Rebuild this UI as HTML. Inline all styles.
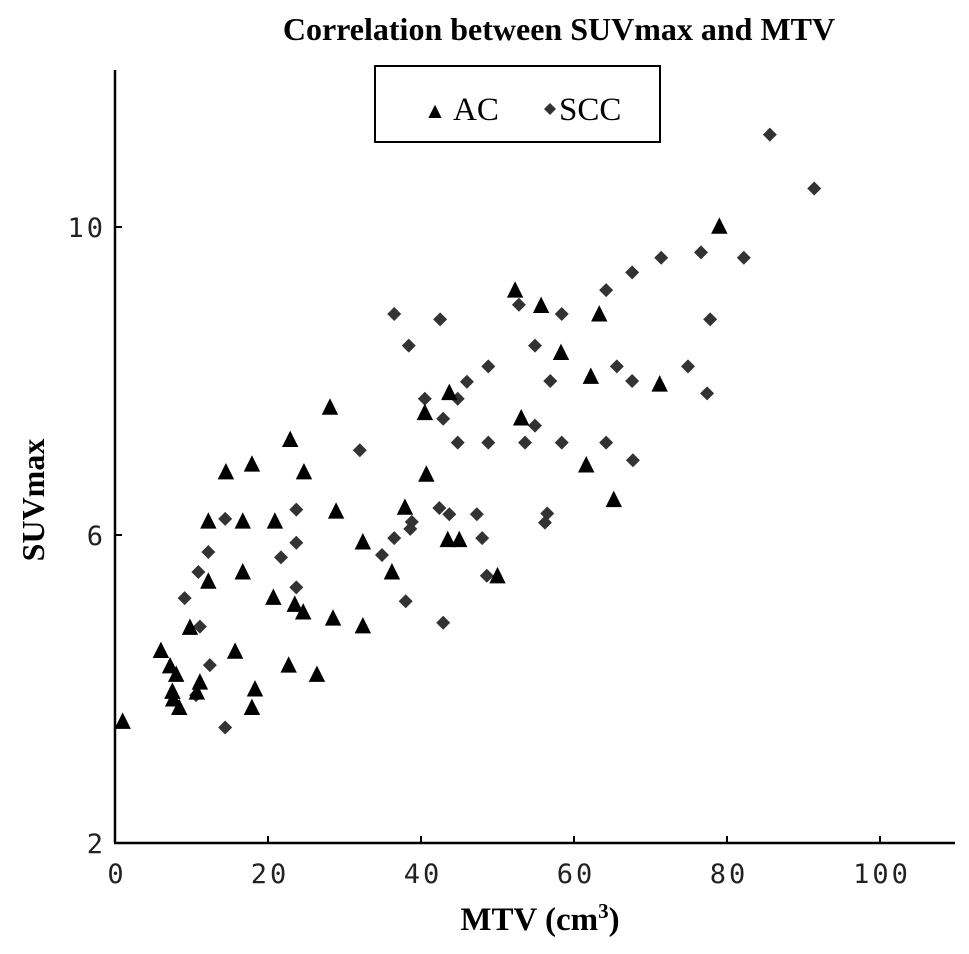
<!DOCTYPE html>
<html><head><meta charset="utf-8"><style>
html,body{margin:0;padding:0;background:#fff;}
svg{display:block;}
.tk{font-family:"DejaVu Sans Mono","Liberation Mono",monospace;font-size:27px;letter-spacing:3px;fill:#222;}
.ser{font-family:"Liberation Serif",serif;fill:#000;}
</style></head><body>
<svg id="chart" width="969" height="954" viewBox="0 0 969 954">
<text class="ser" x="559" y="40" text-anchor="middle" font-size="32" font-weight="bold">Correlation between SUVmax and MTV</text>
<g id="axes"></g>
<g id="marks"></g>
<g>
<rect x="375" y="66" width="285" height="76" fill="#fff" stroke="#000" stroke-width="2"/>
<path d="M430,117 l5,-10 l5,10 z" fill="#000" stroke="#000" stroke-width="2"/>
<text class="ser" x="453" y="120" font-size="33">AC</text>
<path d="M550,103 l6,6 l-6,6 l-6,-6 z" fill="#333"/>
<text class="ser" x="559" y="120" font-size="33">SCC</text>
</g>
<text class="ser" transform="translate(44,500) rotate(-90)" text-anchor="middle" font-size="32" font-weight="bold">SUVmax</text>
<text class="ser" x="540" y="930" text-anchor="middle" font-size="33" font-weight="bold">MTV (cm<tspan dy="-12" font-size="21">3</tspan><tspan dy="12">)</tspan></text>
</svg>
<script>
var xTicks=[0,20,40,60,80,100];
var yTicks=[2,6,10];
var acX=[1,6,7.2,7.5,7.6,8.4,8,10.7,11.1,9.8,12.2,12.2,14.5,15.7,16.7,16.7,17.9,17.9,18.3,20.7,20.9,22.7,22.9,23.5,24.6,24.7,26.4,28.1,28.5,28.9,32.4,32.4,36.2,37.9,40.5,40.7,43.5,45,43.7,50,52.3,53.1,55.7,58.3,61.6,62.2,63.3,65.2,71.2,79];
var acY=[3.57,4.49,4.29,3.96,3.86,3.75,4.18,3.95,4.08,4.79,6.17,5.39,6.81,4.48,6.17,5.51,6.91,3.75,3.99,5.18,6.17,4.3,7.23,5.09,4.99,6.81,4.18,7.65,4.91,6.3,5.9,4.81,5.51,6.35,7.58,6.78,5.93,5.93,7.84,5.46,9.17,7.51,8.97,8.36,6.9,8.05,8.86,6.45,7.95,10];
var sccX=[9.1,10.6,10.9,11.1,12.2,12.4,14.4,14.4,21.7,23.7,23.7,23.7,32,34.9,36.5,36.5,38,38.4,38.6,38.8,40.5,42.4,42.5,42.9,42.9,43.7,44.8,44.8,46,47.3,48,48.6,48.8,48.8,52.8,53.6,54.9,54.9,56.2,56.5,56.9,58.4,58.4,64.2,64.2,65.6,67.6,67.6,67.7,71.4,74.9,76.6,77.4,77.8,82.2,85.6,91.4];
var sccY=[5.18,3.92,5.52,4.81,5.78,4.31,6.21,3.5,5.71,6.33,5.9,5.32,7.1,5.74,8.87,5.96,5.14,8.46,6.08,6.17,7.77,6.35,8.8,7.51,4.86,6.27,7.77,7.2,7.99,6.27,5.96,5.47,8.19,7.2,8.99,7.2,8.46,7.42,6.16,6.28,8,8.87,7.2,9.18,7.2,8.19,9.41,8,6.97,9.6,8.19,9.67,7.84,8.8,9.6,11.2,10.5];
var NS='http://www.w3.org/2000/svg';
function sx(v){return 115+v*7.65;}
function sy(v){return 843-(v-2)*77;}
function mk(tag,attrs,parent){var e=document.createElementNS(NS,tag);for(var k in attrs)e.setAttribute(k,attrs[k]);parent.appendChild(e);return e;}
var axes=document.getElementById('axes');
var yl=mk('line',{x1:115,y1:70,x2:115,y2:843,stroke:'#000','stroke-width':2.5},axes);


var xl=mk('line',{x1:114,y1:843,x2:955,y2:843,stroke:'#000','stroke-width':2.5},axes);


xTicks.forEach(function(t){
  var l=mk('line',{x1:sx(t),y1:843,x2:sx(t),y2:836,stroke:'#000','stroke-width':2},axes);
  
  
  var tx=mk('text',{x:sx(t)+2,y:883,'text-anchor':'middle','class':'tk'},axes);
  tx.textContent=t;
  
  
});
yTicks.forEach(function(t){
  var l=mk('line',{x1:115,y1:sy(t),x2:122,y2:sy(t),stroke:'#000','stroke-width':2},axes);
  
  
  var tx=mk('text',{x:106,y:sy(t)+10,'text-anchor':'end','class':'tk'},axes);
  tx.textContent=t;
  
  
});
var marks=document.getElementById('marks');
sccX.forEach(function(x,i){
  var cx=sx(x),cy=sy(sccY[i]);
  var p=mk('path',{d:'M'+cx+','+(cy-7)+' l7,7 l-7,7 l-7,-7 z',fill:'#333'},marks);
  
  
});
acX.forEach(function(x,i){
  var cx=sx(x),cy=sy(acY[i]);
  var p=mk('path',{d:'M'+(cx-7)+','+(cy+6)+' L'+cx+','+(cy-8)+' L'+(cx+7)+','+(cy+6)+' z',fill:'#000',stroke:'#000','stroke-width':1.5},marks);
  
  
});
</script>
</body></html>
